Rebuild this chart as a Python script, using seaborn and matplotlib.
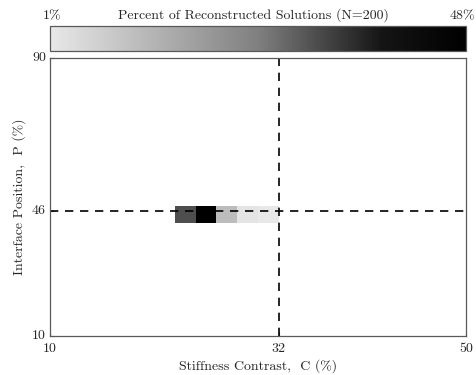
import numpy as np
import pandas as pd
import matplotlib
matplotlib.use("Agg")
import matplotlib.pyplot as plt
from matplotlib.colors import LinearSegmentedColormap
import seaborn as sns

# Reconstructed solutions: stiffness contrast C (%) cell centres and their share (%)
contrast_centers = [23, 25, 27, 29, 31]
position_center = 45
percent_solutions = [31, 48, 11, 2, 1]

# Parameter grid
contrast_grid = list(range(11, 50, 2))      # C cell centres, width 2
position_grid = list(range(90, 9, -5))      # P cell centres, height 5 (top to bottom)

true_contrast = 32
true_position = 46
x_ticks = [10, 32, 50]
y_ticks = [10, 46, 90]
cbar_min, cbar_max = 1, 48

sns.set_style("white")
plt.rcParams["font.family"] = ["cmr10", "DejaVu Serif"]
plt.rcParams["axes.formatter.use_mathtext"] = True
plt.rcParams["font.size"] = 10

grid = pd.DataFrame(np.nan, index=position_grid, columns=contrast_grid)
for c, v in zip(contrast_centers, percent_solutions):
    grid.loc[position_center, c] = v

gray_map = LinearSegmentedColormap.from_list(
    "gray_rev",
    [(0.0, (0.91,) * 3), (0.5, (0.5,) * 3), (0.8, (0.08,) * 3), (1.0, (0.0,) * 3)],
)

fig = plt.figure(figsize=(4.76, 3.75), dpi=100)
ax = fig.add_axes([0.105, 0.104, 0.874, 0.741])
cax = fig.add_axes([0.105, 0.864, 0.874, 0.066])

sns.heatmap(grid, ax=ax, cmap=gray_map, vmin=cbar_min, vmax=cbar_max,
            cbar_ax=cax, cbar_kws={"orientation": "horizontal"},
            linewidths=0, square=False)

# index coordinates of the heatmap -> physical values
def cx(c):
    return (c - 10) / 2.0

def py(p):
    return (92.5 - p) / 5.0

ax.set_xlim(cx(10), cx(50))
ax.set_ylim(py(10), py(90))

ax.axvline(cx(true_contrast), color="black", lw=1.2, ls=(0, (5, 4)))
ax.axhline(py(true_position), color="black", lw=1.2, ls=(0, (5, 4)))

ax.set_xticks([cx(v) for v in x_ticks])
ax.set_xticklabels([str(v) for v in x_ticks], rotation=0)
ax.set_yticks([py(v) for v in y_ticks])
ax.set_yticklabels([str(v) for v in y_ticks], rotation=0)
ax.tick_params(direction="in", length=3, width=0.8, color="0.3", labelsize=10, pad=3)
ax.tick_params(axis="x", bottom=True, pad=5)
ax.tick_params(axis="y", left=True)

for s in ax.spines.values():
    s.set_visible(True)
    s.set_color("0.35")
    s.set_linewidth(0.9)

ax.set_xlabel("Stiffness Contrast,  C (%)", fontsize=10, labelpad=3)
ax.set_ylabel("Interface Position,  P (%)", fontsize=10, labelpad=4)

cax.set_xticks([])
cax.set_yticks([])
cbar = ax.collections[0].colorbar
cbar.outline.set_edgecolor("0.35")
cbar.outline.set_linewidth(0.9)

label_y = 1.17
cax.text(0.005, label_y, f"{cbar_min}%", transform=cax.transAxes, ha="center", va="bottom", fontsize=10)
cax.text(1.0 + 9.0 / 416, label_y, f"{cbar_max}%", transform=cax.transAxes, ha="right", va="bottom", fontsize=10)
cax.text(0.49, label_y, "Percent of Reconstructed Solutions (N=200)", transform=cax.transAxes,
         ha="center", va="bottom", fontsize=10)

fig.savefig("out.png", dpi=100)
